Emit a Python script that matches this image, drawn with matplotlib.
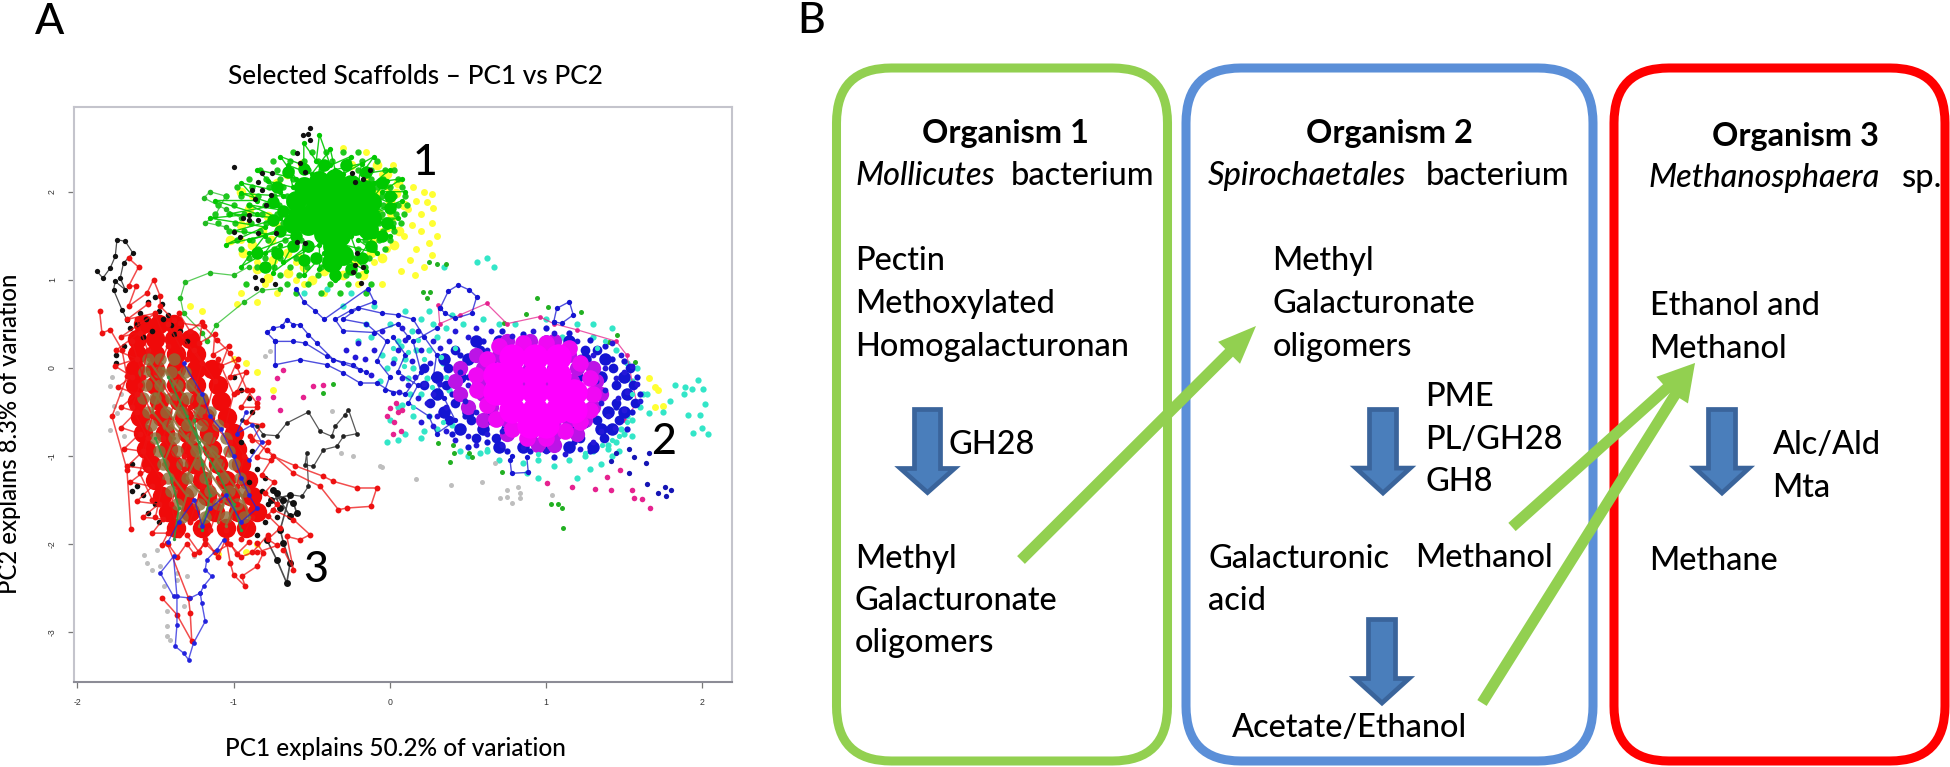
import matplotlib
matplotlib.use("Agg")
import matplotlib.pyplot as plt
from matplotlib.patches import FancyBboxPatch, FancyArrow, Polygon

# panel A, everything in PC units
yellow_pts = [(0.15,2.05),(0.22,2.0),(0.27,1.97),(0.17,1.9),(0.24,1.88),(0.28,1.82),(0.12,1.8),(0.2,1.75),(0.27,1.65),(0.3,1.5),
              (0.14,1.62),(0.2,1.55),(0.09,1.5),(0.25,1.42),(0.17,1.35),(0.27,1.28),(0.13,1.22),(0.22,1.15),(0.07,1.1),(0.16,1.05),
              (-0.05,2.2),(0.02,2.3),(-0.3,2.5),(-0.15,2.45),(-0.05,1.55),(-0.02,1.35),(-0.1,1.2),(-0.6,1.0),(-0.8,0.95),(-0.95,0.85),
              (-0.72,0.85),(-0.85,1.2),(-0.95,1.45),(-0.75,1.65),(-0.55,0.95),(-0.42,0.85),(-0.2,0.95),(-0.05,0.95),(-1.28,0.7),(-1.2,0.65),
              (-0.85,0.75),(-0.98,0.72),(-1.0,0.1),(-0.92,0.05),(-0.85,-0.05),(-0.75,-0.25),(1.66,-0.12),(1.7,-0.22),(1.72,-0.25),(1.7,-0.45),(1.75,-0.43),
              (-0.9,1.65),(-0.7,1.3),(-0.6,1.2),(-0.1,1.45),(0.0,1.75),(-0.02,2.05),(-0.88,1.95),(-0.92,-2.1),(-0.85,-2.0),(-1.1,-2.12)]
yellow_mid = [(-1.02,1.45),(-0.94,1.3),(-0.85,1.12),(-0.78,1.02),(-0.65,1.08),(-0.55,1.15),(-0.5,1.0),(-0.75,1.22),(-0.66,1.3),(-0.58,1.25),(-0.88,1.4),(-0.82,1.55),
              (-0.76,1.45),(-0.7,1.6),(-0.95,1.62),(-0.12,1.3),(-0.05,1.25),(0.03,1.4),(0.06,1.55),(-0.02,1.6),(-0.12,1.42),(0.02,1.72),(0.09,1.85),(0.0,1.9),(0.05,2.1),
              (-0.02,2.2),(-0.08,2.3),(-0.15,2.15),(-0.25,2.3),(-0.9,1.8),(-0.78,1.72),(-0.95,2.0),(-0.72,2.1),(-0.66,2.2),(-0.56,2.32),(-0.42,1.1),(-0.3,1.05),(-0.17,1.05),
              (-0.22,1.2),(-0.07,1.75),(-0.08,1.98),(0.04,1.98)]
cyan_pts = [(1.976,-0.14),(2.008,-0.246),(1.826,-0.2),(1.89,-0.216),(1.933,-0.246),(1.884,-0.299),(1.795,-0.374),(1.747,-0.507),(1.662,-0.518),
            (1.91,-0.537),(1.986,-0.537),(2.018,-0.412),(1.997,-0.681),(1.94,-0.738),(2.04,-0.757),
            (0.0,0.5),(0.1,0.65),(-0.1,0.7),(-0.25,0.85),(-0.4,0.9),(-0.55,0.85),(-0.15,0.5),(0.05,0.3),(-0.05,0.15),(0.1,0.1),(0.2,0.55),
            (0.35,1.15),(0.56,1.2),(0.62,1.25),(0.67,1.15),(0.0,-0.6),(0.05,-0.45),(0.1,-0.75),(0.2,-0.8),(0.15,-0.55),
            (0.45,-0.95),(0.5,-1.0),(0.58,-0.97),(0.62,-0.95),(0.7,-1.05),(0.85,-1.08),(0.95,-1.05),(1.05,-1.12),(1.15,-1.05),(1.25,-1.0),
            (1.3,-0.95),(1.35,-1.1),(1.42,-1.0),(1.45,-0.85),(1.5,-0.75),(1.55,-0.6),(1.6,-0.45),(1.62,-0.3),(1.55,-0.15),(1.52,0.05),(1.45,0.2),
            (1.3,0.35),(1.2,0.5),(1.1,0.35),(0.8,0.5),(0.6,0.55),(0.4,0.6),(0.25,0.65),(0.2,-0.3),(0.25,-0.55),(0.3,-0.7),(0.4,-0.65),(0.15,0.0),
            (0.25,0.2),(0.3,0.35),(1.4,-0.88),(1.48,-0.7),(1.52,-0.55),(-0.02,-0.85),(0.05,-0.82),(0.13,-0.3),(0.03,0.1),(-0.2,0.3),(-0.3,0.7),
            (1.2,-1.25),(0.95,-1.25),(0.88,-1.2),(1.28,-1.15),(1.58,0.0),(1.65,-0.3),(1.3,0.5),(1.42,0.45),
            (-0.02,0.0),(0.07,0.25),(0.12,-0.12),(0.24,-0.12),(0.34,0.05),(0.17,0.2),(-0.12,0.35),(-0.06,-0.15),(0.08,-0.42),(0.22,-0.72),(0.38,-0.25),(0.14,0.42),(0.28,0.5),
            (0.36,0.45),(0.47,0.5),(0.7,0.5),(1.0,0.55),(1.4,-0.92),(1.47,-0.95),(1.55,-0.78)]
cyan_top = [(0.02,0.22),(0.12,0.18),(0.22,0.1),(0.33,0.12),(0.27,-0.22),(0.15,-0.45),(0.34,-0.62),(0.42,0.22),(0.36,-0.1),(0.18,0.32),(0.09,0.02),(1.47,-0.78),(1.42,-0.82),(1.52,-0.62),
            (1.36,-0.88),(1.25,-0.97),(1.55,-0.3),(0.62,-0.92),(0.95,-0.98),(1.38,0.3),(1.33,0.22)]
grey_pts = [(-1.576,-2.125),(-1.554,-2.22),(-1.49,-2.068),(-1.469,-2.258),(-1.426,-2.939),(-1.426,-3.053),(-1.405,-3.091),(-1.299,-2.371),
            (-1.256,-2.144),(-1.362,-2.333),(-1.362,-2.409),(-1.448,-2.485),(-1.32,-2.712),(-1.426,-2.769),(-1.789,-0.212),(-1.768,-0.439),
            (-1.789,-0.705),(-1.704,-0.78),(-1.746,-0.515),(-0.797,0.129),(-0.765,0.186),(-0.371,-0.496),(-0.311,-0.97),(-0.237,-1.008),(-0.062,-1.121),
            (0.706,-1.485),(0.749,-1.39),(0.749,-1.466),(0.781,-1.54),(0.823,-1.352),(0.834,-1.428),(0.834,-1.485),(0.674,-1.087),(0.589,-1.295),
            (0.393,-1.333),(0.168,-1.265),(-0.051,-1.125),(1.037,-1.446),(-1.78,-0.1),(-1.72,-0.3),(-1.52,-2.3),(-1.38,-2.6)]
pink_pts = [(-0.68,-0.023),(-0.723,-0.117),(-0.84,-0.345),(-0.744,-0.333),(-0.701,-0.477),(-0.488,-0.212),(-0.424,-0.193),(-0.552,-0.337),
            (1.165,-1.36),(1.314,-1.378),(1.417,-1.39),(1.553,-1.39),(1.564,-1.485),(1.613,-1.489),(1.666,-1.59),(1.474,-1.162),(1.389,-1.246),(1.005,-1.314),
            (0.0,-0.46),(0.03,-0.62),(0.07,-0.72),(0.02,-0.75),(0.05,-0.5),(-0.02,-0.55),(0.08,-0.48),(0.04,-0.4)]
pink_top = [(0.31,0.71),(0.32,0.5),(0.45,0.6),(0.62,0.73),(0.75,0.5),(0.96,0.58),(1.05,0.5),(1.2,0.43),(1.45,0.3),(1.517,0.144),(1.581,-0.405),(1.5,-0.6)]
green_dots = [(1.107,-1.826),(1.03,-1.55),(1.075,-1.55),(1.105,-1.59),(0.386,-1.07),(0.407,-0.877),(0.411,-0.973),(0.51,-0.973),(0.525,-1.01),(0.717,-1.18),
              (0.311,-0.86),(0.215,0.864),(0.258,0.864),(0.236,0.788),(0.945,0.788),(1.016,0.694),(0.87,0.606),(1.225,0.629),(0.73,0.505),(1.457,0.372),
              (1.406,0.296),(1.57,0.069),(0.25,1.2),(0.3,1.18),(0.36,1.18),(-0.36,-0.18),(-0.424,-0.288)]

green_core = [(-0.55,2.05),(-0.45,2.12),(-0.35,2.14),(-0.25,2.08),(-0.6,1.9),(-0.5,1.95),(-0.4,1.98),(-0.3,1.95),(-0.2,1.92),(-0.58,1.75),(-0.48,1.8),
              (-0.38,1.82),(-0.28,1.8),(-0.18,1.78),(-0.52,1.62),(-0.42,1.66),(-0.32,1.65),(-0.22,1.62),(-0.42,1.52),(-0.32,1.5),(-0.36,1.38),(-0.3,1.28),
              (-0.37,1.2),(-0.12,1.88),(-0.12,1.7),(-0.16,2.02),(-0.14,1.58),(-0.62,1.65)]
green_halo = [(-0.72,2.05),(-0.65,2.22),(-0.55,2.26),(-0.42,2.3),(-0.28,2.3),(-0.15,2.22),(-0.05,2.1),(0.0,1.95),(0.0,1.82),(-0.02,1.65),(-0.05,1.5),(-0.12,1.38),(-0.18,1.25),
              (-0.25,1.12),(-0.35,1.05),(-0.47,1.25),(-0.52,1.38),(-0.6,1.5),(-0.7,1.55),(-0.75,1.68),(-0.75,1.88),(-0.68,1.78),(-0.62,1.38),(-0.72,1.3),(-0.55,1.22),(-0.85,1.3),(-0.8,1.15)]
green_mid_rows = [2.45,2.35,2.25,2.15,2.05,1.95,1.85,1.75,1.65,1.55,1.45,1.35,1.25,1.15,1.05,0.95,0.85]
green_mid_cols = [[-0.62,-0.5,-0.41,-0.3,-0.2],[-0.75,-0.64,-0.55,-0.46,-0.37,-0.27,-0.18,-0.08],[-0.83,-0.72,-0.63,-0.52,-0.44,-0.2,-0.12,-0.03,0.03],
                  [-0.9,-0.79,-0.7,-0.62,-0.12,-0.04,0.05],[-0.98,-0.88,-0.77,-0.68,-0.08,0.0,0.08],[-1.05,-0.95,-0.84,-0.74,-0.66,-0.05,0.03,0.1],
                  [-1.1,-1.0,-0.9,-0.8,-0.71,-0.04,0.05,0.11],[-1.12,-1.03,-0.93,-0.82,-0.72,-0.05,0.04,0.09],[-1.1,-0.99,-0.89,-0.79,-0.68,-0.07,0.02,0.07],
                  [-1.03,-0.93,-0.83,-0.72,-0.62,-0.12,-0.04,0.03],[-0.98,-0.88,-0.78,-0.67,-0.57,-0.16,-0.07,0.0],[-0.95,-0.84,-0.74,-0.63,-0.52,-0.2,-0.1,-0.03],
                  [-0.9,-0.8,-0.7,-0.6,-0.48,-0.22,-0.13],[-0.85,-0.74,-0.64,-0.53,-0.44,-0.24,-0.16],[-0.7,-0.58,-0.46,-0.28,-0.2],[-0.92,-0.66,-0.52,-0.38,-0.27,-0.12],[-0.6,-0.44,-0.32,-0.15]]
green_spikes = [(0.08,1.9),(-0.2,1.7),(0.05,1.7),(-0.15,1.6),(0.0,1.5),(-0.2,1.45),(-0.08,1.3),(-0.3,1.4),(-0.15,1.1),(-0.3,1.25),(-0.35,1.0),(-0.42,1.3),
                (-0.55,1.05),(-0.55,1.35),(-0.75,1.08),(-0.7,1.4),(-0.95,1.15),(-0.8,1.5),(-1.05,1.4),(-0.8,1.6),(-1.15,1.7),(-0.85,1.75),(-1.12,1.9),(-0.85,1.9),
                (-0.95,2.1),(-0.7,2.0),(-0.85,2.25),(-0.6,2.15),(-0.7,2.4),(-0.55,2.3),(-0.55,2.55),(-0.47,2.35),(-0.45,2.65),(-0.38,2.3),(-0.25,2.4),(-0.3,2.2),
                (-0.1,2.4),(-0.18,2.2),(0.0,2.25),(-0.1,2.1),(0.08,2.15),(-0.05,2.0),(0.1,2.0)]
green_spikes2 = [(-0.9,1.3),(-0.6,1.5),(-1.0,1.55),(-0.7,1.7),(-1.02,1.75),(-0.72,1.85),(-0.95,1.98),(-0.68,1.95),(-0.78,2.12),(-0.62,2.05),(-0.65,2.3),(-0.5,2.2),
                 (-0.38,2.48),(-0.35,2.25),(-0.18,2.32),(-0.2,2.1),(-0.02,2.12),(-0.1,1.95),(0.03,1.85),(-0.1,1.75),(0.02,1.6),(-0.1,1.5),(-0.2,1.25),(-0.25,1.5),
                 (-0.45,1.12),(-0.45,1.4),(-0.68,1.2),(-0.62,1.4),(-0.8,1.3),(-0.7,1.55),(-0.9,1.45),(-0.62,1.62),(-0.9,1.85),(-0.65,1.78)]
green_tail = [(-0.9,1.15),(-1.0,1.05),(-1.15,1.08),(-1.31,0.97),(-1.34,0.79),(-1.32,0.62),(-1.2,0.4),(-1.17,0.3),(-1.11,0.49),(-0.93,0.75),(-0.82,0.88),(-0.7,0.9)]
green_lobe = [(-0.95,1.7),(-1.05,1.8),(-1.19,1.93),(-1.15,2.0),(-1.05,1.95),(-1.12,1.72),(-1.18,1.65),(-1.05,1.6)]

black_cl1 = [(-0.997,2.284),(-0.51,2.72),(-0.52,2.655),(-0.553,2.644),(-0.51,2.586),(-0.595,2.435),(-0.574,2.322),(-0.542,2.229),(-0.82,2.208),(-0.755,2.208),
             (-0.84,2.113),(-0.88,2.019),(-0.82,2.019),(-0.76,1.962),(-0.862,1.913),(-0.79,1.849),(-0.9,1.734),(-0.94,1.696),(-0.9,1.678),(-0.84,1.678),(-1.0,1.545),
             (-0.96,1.489),(-0.84,1.527),(-0.73,1.527),(-0.244,2.209),(-0.17,2.15),(-0.22,2.113),(-0.125,2.247),(-0.595,1.432),(-0.54,1.413),(-0.212,1.299),
             (-0.223,1.167),(-0.234,1.09),(-0.17,1.15),(-0.185,0.958),(-0.86,1.034),(-0.82,0.997),(-0.853,0.902),(-0.733,0.949)]
black_top = [(-1.874,1.095),(-1.836,1.019),(-1.789,1.133),(-1.757,1.265),(-1.746,1.455),(-1.693,1.436),(-1.644,1.303),(-1.704,1.189),(-1.725,1.019),(-1.693,0.886),
             (-1.757,0.981),(-1.768,0.886),(-1.714,0.659),(-1.682,0.545)]
black_right = [(-0.947,-0.591),(-0.851,-0.667),(-0.808,-0.761),(-0.723,-0.773),(-0.659,-0.629),(-0.52,-0.504),(-0.446,-0.723),(-0.371,-0.78),(-0.35,-0.667),(-0.286,-0.534),
               (-0.264,-0.477),(-0.211,-0.75),(-0.296,-0.78),(-0.339,-0.894),(-0.424,-0.932),(-0.488,-1.121),(-0.542,-1.102),(-0.531,-0.97),(-0.52,-1.348),(-0.563,-1.462),(-0.638,-1.443)]
black_knot = [(-0.723,-1.424),(-0.68,-1.5),(-0.616,-1.538),(-0.595,-1.652),(-0.638,-1.689),(-0.744,-1.386),(-0.7,-1.6),(-0.76,-1.5),(-0.64,-1.45),(-0.701,-1.841),
              (-0.68,-1.992),(-0.638,-2.22),(-0.659,-2.447),(-0.723,-2.182),(-0.787,-1.955)]
black_cl3 = [(-1.55,0.75),(-1.5,0.8),(-1.48,0.65),(-1.45,0.55),(-1.62,0.5),(-1.58,0.35),(-1.42,0.6),(-1.66,0.45),(-1.7,0.25),(-1.75,0.15),(-1.75,0.05),(-1.0,-0.1),
             (-0.95,-0.25),(-0.9,-0.35),(-0.88,-0.5),(-0.95,-0.85),(-0.88,-0.95),(-0.85,-1.15),(-0.8,-1.25),(-0.82,-1.4),(-0.9,-1.3),(-0.78,-1.55),(-0.75,-1.62),(-0.72,-1.7),
             (-0.8,-1.75),(-0.85,-1.9),(-1.65,-1.4),(-1.62,-1.35),(-1.58,-1.45),(-1.55,-1.65),(-1.48,-1.75),(-1.5,-1.55),(-1.65,-1.1),(-1.3,0.3),(-1.38,0.38),(-1.52,0.42),
             (-1.6,0.62),(-1.46,0.72),(-1.4,0.48),(-1.56,0.55),(-1.34,0.42)]

red_core_rows = [0.5,0.33,0.16,-0.02,-0.2,-0.38,-0.56,-0.74,-0.92,-1.1,-1.28,-1.46,-1.64,-1.82]
red_core_cols = [[-1.58,-1.48,-1.38],[-1.62,-1.5,-1.38,-1.28],[-1.62,-1.5,-1.37,-1.24],[-1.63,-1.5,-1.37,-1.24,-1.14],[-1.63,-1.5,-1.37,-1.24,-1.1],
                 [-1.62,-1.48,-1.35,-1.22,-1.08],[-1.6,-1.46,-1.32,-1.18,-1.04],[-1.58,-1.44,-1.3,-1.16,-1.0],[-1.56,-1.42,-1.28,-1.14,-0.98],
                 [-1.53,-1.39,-1.25,-1.1,-0.95],[-1.5,-1.35,-1.2,-1.05,-0.91],[-1.46,-1.32,-1.17,-1.02,-0.88],[-1.42,-1.28,-1.12,-0.97,-0.85],[-1.37,-1.2,-1.05,-0.92]]
olive_rows = [0.1,-0.05,-0.2,-0.35,-0.5,-0.65,-0.8,-0.95,-1.1,-1.25,-1.4,-1.55,-1.7]
olive_cols = [[-1.55,-1.47,-1.38],[-1.57,-1.48,-1.4,-1.31],[-1.56,-1.47,-1.36,-1.27],[-1.58,-1.5,-1.4,-1.3,-1.2],[-1.55,-1.43,-1.33,-1.22,-1.15],
              [-1.53,-1.42,-1.3,-1.2,-1.1],[-1.5,-1.38,-1.27,-1.16,-1.05],[-1.48,-1.36,-1.24,-1.14,-1.03],[-1.45,-1.33,-1.22,-1.1,-1.0],
              [-1.42,-1.3,-1.18,-1.07,-0.96],[-1.4,-1.27,-1.15,-1.03,-0.93],[-1.36,-1.22,-1.1,-0.98],[-1.33,-1.18,-1.05,-0.93]]
red_fringe_left = [(-1.55,0.72),(-1.68,0.55),(-1.5,0.62),(-1.72,0.35),(-1.6,0.4),(-1.75,0.2),(-1.62,0.1),(-1.76,0.02),(-1.65,-0.1),(-1.74,-0.22),(-1.62,-0.3),(-1.72,-0.45),(-1.62,-0.5),(-1.72,-0.68),
                   (-1.6,-0.75),(-1.7,-0.92),(-1.58,-0.95),(-1.68,-1.12),(-1.55,-1.15),(-1.66,-1.3),(-1.52,-1.35),(-1.62,-1.52),(-1.48,-1.55),(-1.58,-1.7),(-1.45,-1.72),(-1.52,-1.88),(-1.42,-1.88),(-1.46,-2.02)]
red_fringe_right = [(-1.35,0.62),(-1.28,0.42),(-1.2,0.52),(-1.22,0.28),(-1.12,0.38),(-1.13,0.15),(-1.03,0.25),(-1.08,0.02),(-0.97,0.1),(-1.02,-0.1),(-0.92,-0.05),(-0.98,-0.28),(-0.88,-0.25),(-0.95,-0.45),
                    (-0.85,-0.45),(-0.92,-0.62),(-0.82,-0.65),(-0.88,-0.82),(-0.78,-0.85),(-0.85,-1.02),(-0.76,-1.05),(-0.82,-1.22),(-0.74,-1.3),(-0.8,-1.42),(-0.72,-1.55),(-0.78,-1.68),(-0.7,-1.82),(-0.78,-1.95),(-0.72,-2.02),(-0.85,-2.1)]
red_fringe_bottom = [(-1.42,-2.0),(-1.36,-2.15),(-1.3,-2.0),(-1.25,-2.12),(-1.18,-2.0),(-1.12,-2.1),(-1.02,-2.0),(-0.98,-2.12),(-0.9,-1.98)]
red_paths = [
    [(-1.62,0.55),(-1.55,0.2),(-1.6,-0.2),(-1.52,-0.55),(-1.58,-0.95),(-1.45,-1.3),(-1.5,-1.7)],
    [(-1.5,0.6),(-1.42,0.25),(-1.5,-0.05),(-1.38,-0.4),(-1.45,-0.8),(-1.32,-1.15),(-1.4,-1.55),(-1.35,-1.9)],
    [(-1.42,0.5),(-1.3,0.1),(-1.38,-0.25),(-1.25,-0.6),(-1.32,-1.0),(-1.2,-1.35),(-1.28,-1.75)],
    [(-1.35,0.4),(-1.2,0.05),(-1.28,-0.45),(-1.12,-0.75),(-1.2,-1.15),(-1.08,-1.5),(-1.15,-1.85)],
    [(-1.65,0.3),(-1.58,-0.1),(-1.65,-0.45),(-1.55,-0.8),(-1.6,-1.2),(-1.52,-1.5)],
    [(-1.25,0.2),(-1.12,-0.15),(-1.18,-0.55),(-1.02,-0.85),(-1.1,-1.25),(-0.98,-1.55),(-1.05,-1.85)],
    [(-1.1,0.1),(-1.0,-0.3),(-1.05,-0.65),(-0.93,-1.0),(-0.98,-1.35),(-0.88,-1.7),(-0.95,-1.95)],
    [(-0.893,-0.78),(-0.744,-1.008),(-0.606,-1.114),(-0.424,-1.235),(-0.36,-1.292),(-0.211,-1.367),(-0.083,-1.367),(-0.122,-1.576),(-0.275,-1.595),(-0.328,-1.614),(-0.446,-1.348),(-0.616,-1.197),(-0.787,-0.932)],
    [(-1.043,-1.992),(-1.021,-2.22),(-1.0,-2.352),(-0.925,-2.485),(-0.947,-2.371),(-0.851,-2.258),(-0.808,-2.106),(-0.851,-1.992)],
    [(-0.744,-1.614),(-0.616,-1.727),(-0.51,-1.898),(-0.574,-1.955),(-0.659,-1.917),(-0.616,-2.295),(-0.68,-2.068)],
    [(-1.657,-1.833),(-1.682,-1.159),(-1.778,-0.553),(-1.682,-0.098),(-1.714,0.205),(-1.789,0.432),(-1.842,0.394),(-1.857,0.64)],
    [(-1.458,-2.617),(-1.362,-2.807),(-1.267,-3.11),(-1.277,-2.788),(-1.288,-2.617),(-1.426,-1.992)],
    [(-1.672,1.246),(-1.608,1.144),(-1.672,0.924),(-1.623,0.932),(-1.672,0.697),(-1.554,0.848),(-1.512,1.0),(-1.469,0.811),(-1.469,0.697),(-1.384,0.545)],
    [(-1.341,0.508),(-1.192,0.47),(-1.107,0.318),(-1.021,0.167),(-0.979,0.015),(-0.915,-0.25),(-0.851,-0.402)],
    [(-1.3,-1.9),(-1.22,-2.1),(-1.18,-1.95),(-1.1,-2.15),(-1.05,-1.95),(-0.95,-2.15),(-0.88,-2.1),(-0.78,-1.9)],
]
olive_paths = [
    [(-1.55,0.1),(-1.45,-0.15),(-1.52,-0.5),(-1.38,-0.8),(-1.45,-1.1),(-1.3,-1.45),(-1.35,-1.75)],
    [(-1.45,0.0),(-1.32,-0.3),(-1.4,-0.65),(-1.22,-0.95),(-1.3,-1.25),(-1.15,-1.55),(-1.22,-1.8)],
    [(-1.35,-0.05),(-1.2,-0.35),(-1.28,-0.7),(-1.1,-1.0),(-1.18,-1.3),(-1.0,-1.6),(-1.05,-1.8)],
    [(-1.55,-0.05),(-1.35,-0.5),(-1.15,-0.95),(-0.95,-1.45),(-0.9,-1.7)],
    [(-1.5,-0.3),(-1.3,-0.8),(-1.15,-1.2),(-1.05,-1.45),(-1.1,-1.75)],
]
dkgreen_paths = [
    [(-1.42,-0.1),(-1.3,-0.55),(-1.22,-0.85),(-1.1,-1.2),(-1.0,-1.55),(-0.95,-1.85)],
    [(-1.5,-0.8),(-1.4,-1.25),(-1.35,-1.6),(-1.38,-1.95)],
    [(-1.25,-0.6),(-1.2,-1.1),(-1.15,-1.45),(-1.2,-1.85)],
]
blue_cl3 = [(-1.32,0.05),(-1.2,-0.3),(-1.15,-0.55),(-1.08,-0.7),(-1.0,-1.0),(-0.95,-1.25),(-0.9,-1.45),(-0.85,-1.6),(-0.95,-1.75),(-1.05,-1.45),(-1.15,-1.6),(-1.2,-1.8),(-1.25,-1.5),(-1.35,-1.75),(-1.42,-1.98)]
blue_edge = [(-0.92,-0.5),(-0.98,-0.75),(-0.88,-0.65),(-0.82,-0.85),(-0.9,-1.05)]
blue_drop = [(-1.064,-1.955),(-1.107,-2.068),(-1.171,-2.182),(-1.181,-2.295),(-1.139,-2.371),(-1.192,-2.485),(-1.213,-2.561),(-1.277,-2.617),(-1.384,-2.598),(-1.469,-2.333),(-1.384,-2.144),
             (-1.362,-2.598),(-1.362,-2.92),(-1.373,-3.167),(-1.32,-3.242),(-1.288,-3.318),(-1.256,-3.129),(-1.181,-2.883),(-1.203,-2.674),(-1.213,-2.561)]
blue_hook = [(0.023,-0.288),(-0.083,-0.174),(-0.19,-0.174),(-0.296,-0.061),(-0.403,0.034),(-0.574,0.091),(-0.733,0.034),(-0.733,0.299),(-0.787,0.402),(-0.744,0.451),(-0.691,0.47),(-0.659,0.545),(-0.616,0.489),
             (-0.574,0.489),(-0.52,0.375),(-0.467,0.28),(-0.36,0.091),(-0.232,0.034),(-0.19,-0.023)]
blue_hook2 = [(-0.733,0.299),(-0.616,0.299),(-0.542,0.28),(-0.403,0.129),(-0.3,0.05),(-0.15,-0.05)]
blue_up = [(-0.6,0.9),(-0.55,0.75),(-0.48,0.65),(-0.42,0.55),(-0.14,0.9),(-0.1,0.75),(-0.25,0.65),(-0.35,0.55),(-0.3,0.42),(-0.1,0.4),(0.05,0.5),(0.12,0.35)]
blue_left = [(0.02,0.35),(0.1,0.15),(0.05,-0.05),(0.18,-0.2),(0.12,-0.4),(0.25,-0.55),(0.3,-0.75),(0.42,-0.6),(0.35,-0.35),(0.28,-0.1),(0.3,0.15),(0.22,0.35),(0.15,0.55),(0.05,0.6),(-0.05,0.62),(-0.2,0.68),
             (-0.3,0.55),(-0.15,0.5),(-0.02,0.3),(-0.08,0.08),(0.0,-0.1),(-0.03,-0.25),(0.1,-0.3),(0.2,-0.05),(0.15,0.3),(0.3,0.45)]
blue_loop1 = [(0.322,0.675),(0.375,0.87),(0.439,0.94),(0.51,0.883),(0.557,0.807),(0.525,0.618),(0.418,0.561),(0.354,0.618),(0.322,0.675)]
blue_loop2 = [(1.05,0.523),(1.069,0.674),(1.15,0.75),(1.175,0.6),(1.10,0.504),(1.05,0.523)]
blue_box = [(0.78,-1.0),(0.77,-1.05),(0.78,-1.2),(0.887,-1.19),(0.877,-1.01)]
blue_rim = [(1.38,0.25),(1.5,0.08),(1.58,-0.1),(1.6,-0.3),(1.55,-0.5),(1.45,-0.45),(1.52,-0.7),(1.38,-0.8),(1.28,-0.95),(1.18,-0.85),(1.05,-1.02),(0.9,-0.95),(0.75,-0.95),(0.62,-0.85),(0.5,-0.9),(0.4,-0.75),
            (0.48,-0.55),(0.4,-0.3),(0.5,-0.1),(0.45,0.15),(0.6,0.3),(0.72,0.42),(0.85,0.38),(1.0,0.45),(1.15,0.4),(1.28,0.32),(1.42,0.1)]
blue_dots = [(1.449,-0.973),(1.534,-0.923),(1.566,-1.011),(1.662,-0.966),(1.64,-1.087),(1.534,-1.193),(1.415,-1.06),(1.645,-1.325),(1.716,-1.428),(1.763,-1.352),(1.801,-1.394),(1.769,-1.458)]
blue_speck = [(0.02,0.05),(0.08,-0.12),(0.14,0.08),(0.2,0.2),(0.26,0.05),(0.32,0.22),(0.38,0.3),(0.1,0.32),(0.05,0.2),(0.16,-0.1),(0.22,-0.18),(0.28,-0.3),(0.32,-0.18),(0.36,-0.45),(0.3,-0.55),(0.24,-0.4),
              (0.18,-0.35),(0.12,-0.2),(0.06,-0.28),(0.2,-0.62),(0.28,-0.66),(0.36,-0.72),(0.42,-0.82),(0.5,-0.78),(0.55,-0.88),(-0.1,0.2),(-0.16,0.1),(-0.22,0.12),(-0.12,-0.08),(-0.2,0.28),(-0.28,0.2),
              (-0.05,0.42),(0.08,0.45),(0.18,0.42),(0.28,0.3),(0.42,0.42),(0.5,0.35),(0.55,0.45),(0.65,0.42),(1.42,0.28),(1.48,0.15),(1.55,0.02),(1.5,-0.05),(1.58,-0.18),(1.45,-0.12),(1.52,-0.28),(1.6,-0.38),
              (1.46,-0.35),(1.5,-0.48),(1.4,-0.55),(1.44,-0.68),(1.35,-0.72),(1.3,-0.85),(1.22,-0.92),(1.12,-0.98),(1.0,-0.95),(0.85,-0.9),(0.72,-0.88),(0.62,-0.75),(1.38,-0.25),(1.38,0.0),(1.3,0.15),(1.2,0.3),
              (1.05,0.4),(0.92,0.42),(0.78,0.36),(1.35,-0.4),(0.5,-0.2),(0.55,-0.5),(0.6,0.1),(0.45,-0.05),(0.65,-0.62),(0.72,-0.72),(1.3,-0.5),(1.25,-0.65),(1.22,0.12),(1.12,0.25),(0.72,0.22),(0.62,0.2),
              (0.48,-0.38),(1.32,-0.15)]
blue_core_rows = [0.3,0.1,-0.1,-0.3,-0.5,-0.7,-0.9]
blue_core_cols = [[0.55,0.7,0.85,1.0,1.15],[0.35,0.5,0.65,0.8,0.95,1.1,1.25,1.38],[0.3,0.45,0.6,0.75,0.9,1.05,1.2,1.35,1.5],
                  [0.3,0.45,0.6,0.75,0.9,1.05,1.2,1.35,1.52],[0.35,0.5,0.65,0.8,0.95,1.1,1.25,1.4,1.5],[0.45,0.6,0.75,0.9,1.05,1.2,1.35,1.42],[0.7,0.85,1.0,1.15,1.3]]
blue_stag_rows = [0.2,0.0,-0.2,-0.4,-0.6,-0.8]
blue_stag_cols = [[0.42,0.58,1.25,1.33],[0.22,0.37,1.43,1.54],[0.22,0.36,1.45,1.56],[0.26,0.42,1.45,1.57],[0.38,0.52,1.33,1.47],[0.55,0.68,1.22,1.37]]
magenta_mid_rows = [0.3,0.15,0.0,-0.15,-0.3,-0.45,-0.6,-0.75,-0.88]
magenta_mid_cols = [[0.75,0.9,1.05],[0.55,0.7,0.85,1.0,1.15],[0.45,0.6,0.75,0.9,1.05,1.2,1.3],[0.42,0.57,0.72,0.87,1.02,1.17,1.32],
                    [0.45,0.6,0.75,0.9,1.05,1.2,1.35],[0.5,0.65,0.8,0.95,1.1,1.2,1.3],[0.6,0.75,0.9,1.05,1.15,1.25],[0.75,0.9,1.05,1.2],[0.95,1.05]]
magenta_ring = [(0.62,0.1),(0.7,0.25),(0.85,0.28),(1.0,0.28),(1.15,0.22),(1.22,0.05),(1.28,-0.12),(1.3,-0.3),(1.28,-0.48),(1.22,-0.62),(1.12,-0.72),(1.0,-0.8),(0.88,-0.8),(0.78,-0.7),(0.68,-0.58),(0.62,-0.42),(0.56,-0.25),(0.55,-0.08)]
magenta_core = [(0.78,0.12),(0.93,0.12),(1.08,0.12),(0.68,-0.08),(0.78,-0.08),(0.93,-0.08),(1.08,-0.08),(0.68,-0.28),(0.78,-0.28),(0.93,-0.28),(1.08,-0.28),(1.18,-0.28),
                (0.78,-0.48),(0.93,-0.48),(1.08,-0.48),(1.18,-0.48),(0.9,-0.65),(1.0,-0.65)]

x_ticks = [-2, -1, 0, 1, 2]
y_ticks = [-3, -2, -1, 0, 1, 2]

W, H = 1950, 767
LINE_KW = dict(solid_capstyle="round", solid_joinstyle="round")


def trace(ax, pts, color, lw=0.9, ms=3.6, alpha=0.75):
    xs = [p[0] for p in pts]
    ys = [p[1] for p in pts]
    ax.plot(xs, ys, color=color, lw=lw, alpha=alpha, **LINE_KW)
    ax.plot(xs, ys, ls="none", marker="o", color=color, ms=ms, mew=0)


def dots(ax, pts, color, ms=3.6, alpha=1.0):
    ax.plot([p[0] for p in pts], [p[1] for p in pts], ls="none", marker="o", color=color, ms=ms, mew=0, alpha=alpha)


def rows(ax, ys, cols, color, ms, alpha=1.0):
    for y, xs in zip(ys, cols):
        ax.plot(xs, [y] * len(xs), ls="none", marker="o", color=color, ms=ms, mew=0, alpha=alpha)


def down_arrow(ax, xmid, top, neck, tip, shaft_w, head_w):
    # block arrow, dark outline inside the outer shape
    inset = 2.5
    sw, hw = shaft_w / 2 - inset, head_w / 2 - 2 * inset
    pts = [(xmid - sw, top + inset), (xmid + sw, top + inset), (xmid + sw, neck + inset), (xmid + hw, neck + inset),
           (xmid, tip - 2 * inset), (xmid - hw, neck + inset), (xmid - sw, neck + inset)]
    ax.add_patch(Polygon(pts, closed=True, fc="#4A7EBB", ec="#3A649B", lw=3.4, joinstyle="miter"))


def green_arrow(ax, x0, y0, x1, y1, head_len=38):
    ax.add_patch(FancyArrow(x0, y0, x1 - x0, y1 - y0, width=11, head_width=31, head_length=head_len,
                            length_includes_head=True, fc="#92D050", ec="none"))


plt.rcParams["font.family"] = ["Lato", "DejaVu Sans"]
plt.rcParams["axes.unicode_minus"] = False

fig = plt.figure(figsize=(W / 100, H / 100), dpi=100, facecolor="white")

# ---- panel A
ax = fig.add_axes([74 / W, 1 - 681.5 / H, (732 - 74) / W, (681.5 - 106.7) / H])
ax.set_xlim(-2.021, 2.191)
ax.set_ylim(-3.566, 2.966)

dots(ax, yellow_pts, "#FFFF33", ms=5)
dots(ax, cyan_pts, "#33E6C8", ms=4.5)
dots(ax, grey_pts, "#BEBEBE", ms=3.6)
dots(ax, pink_pts, "#E6228F", ms=4)
dots(ax, green_dots, "#22B022", ms=3.6)

# cluster 1
dots(ax, yellow_mid, "#FFFF33", ms=7)
trace(ax, green_tail, "#22BB22", lw=0.9, ms=4)
trace(ax, green_lobe, "#22BB22", lw=0.9, ms=4)
rows(ax, green_mid_rows, green_mid_cols, "#1EC81E", ms=4.6)
trace(ax, green_spikes, "#00C800", lw=1.0, ms=3.8, alpha=0.9)
trace(ax, green_spikes2, "#00C800", lw=1.0, ms=3.8, alpha=0.9)
dots(ax, green_halo, "#00C800", ms=9)
dots(ax, green_core, "#00C800", ms=15)
dots(ax, black_cl1, "#111111", ms=3.8)

# cluster 2
trace(ax, pink_top, "#E6228F", lw=0.9, ms=3.4)
for path in [blue_hook, blue_hook2, blue_up, blue_left, blue_loop1, blue_loop2, blue_box]:
    trace(ax, path, "#1414D2", lw=1.0, ms=3.8)
rows(ax, blue_core_rows, blue_core_cols, "#1414D2", ms=9)
rows(ax, blue_stag_rows, blue_stag_cols, "#1414D2", ms=7)
dots(ax, blue_dots, "#1414B4", ms=3.8)
dots(ax, blue_rim, "#1414D2", ms=4.5)
rows(ax, magenta_mid_rows, magenta_mid_cols, "#BC14E6", ms=11)
dots(ax, blue_speck, "#2418D8", ms=4.2)
dots(ax, cyan_top, "#33E6C8", ms=3.8)
dots(ax, magenta_ring, "#F008F4", ms=12)
dots(ax, magenta_core, "#FF00FF", ms=19)

# cluster 3
rows(ax, red_core_rows, red_core_cols, "#F00A0A", ms=14)
trace(ax, black_top, "#111111", lw=0.9, ms=3.8)
trace(ax, black_right, "#222222", lw=0.9, ms=3.4)
trace(ax, black_knot, "#111111", lw=1.2, ms=5)
dots(ax, black_cl3, "#111111", ms=4)
rows(ax, olive_rows, olive_cols, "#8E6C38", ms=9, alpha=0.8)
for path in red_paths + [red_fringe_left, red_fringe_right, red_fringe_bottom]:
    trace(ax, path, "#EE1111", lw=1.1, ms=4.2)
for path in olive_paths:
    trace(ax, path, "#8E7038", lw=1.6, ms=2.4, alpha=0.85)
for path in dkgreen_paths:
    trace(ax, path, "#2F9A3F", lw=1.3, ms=2.4, alpha=0.85)
for path in [blue_cl3, blue_edge, blue_drop]:
    trace(ax, path, "#2222DD", lw=1.0, ms=3.4)

ax.set_xticks(x_ticks)
ax.set_yticks(y_ticks)
ax.set_yticklabels([str(v) for v in y_ticks], rotation=90, va="center")
ax.tick_params(labelsize=6.3, length=4.2, width=0.9, color="#777777", labelcolor="#333333", pad=8)
for lab in ax.get_xticklabels() + ax.get_yticklabels():
    lab.set_family("Liberation Sans")
for side in ["left", "top", "right"]:
    ax.spines[side].set_color("#C4C4CC")
    ax.spines[side].set_linewidth(1.5)
ax.spines["bottom"].set_color("#8C8C96")
ax.spines["bottom"].set_linewidth(1.5)

# ---- everything else sits on an overlay in image pixels
ov = fig.add_axes([0, 0, 1, 1], facecolor="none")
ov.set_xlim(0, W)
ov.set_ylim(H, 0)
ov.axis("off")

BODY = 23.4


def label(x, y, s, size=BODY, **kw):
    kw.setdefault("weight", "medium")
    ov.text(x, y, s, fontsize=size, va="baseline", color="black", **kw)


label(35, 34, "A", size=31)
label(797, 33, "B", size=31)
label(415, 84, "Selected Scaffolds – PC1 vs PC2", size=18.9, ha="center")
label(395, 756, "PC1 explains 50.2% of variation", size=17.6, ha="center")
ov.text(21, 434, "PC2 explains 8.3% of variation", fontsize=17.2, weight="medium", rotation=90, ha="right", va="center", color="black")
label(425, 175, "1", size=31, ha="center")
label(664, 454, "2", size=31, ha="center")
label(316, 582, "3", size=31, ha="center")

# rounded boxes
for x0, x1, col in [(836.5, 1167.5, "#92D050"), (1186, 1593, "#5B8FD8"), (1614, 1945, "#FF0000")]:
    ov.add_patch(FancyBboxPatch((x0, 68), x1 - x0, 693, boxstyle="round,pad=0,rounding_size=55", fc="none", ec=col, lw=6.5))

label(1005, 143, "Organism 1", weight="bold", ha="center")
label(855, 185, "Mollicutes", style="italic")
label(1011, 185, "bacterium")
for y, s in [(270.5, "Pectin"), (313, "Methoxylated"), (355.7, "Homogalacturonan"), (567.5, "Methyl"), (609.6, "Galacturonate"), (652, "oligomers")]:
    label(855, y, s)
label(949, 453.5, "GH28")

label(1389.5, 143, "Organism 2", weight="bold", ha="center")
label(1207.5, 185, "Spirochaetales", style="italic")
label(1425.6, 185, "bacterium")
for y, s in [(270.5, "Methyl"), (313, "Galacturonate"), (355.7, "oligomers")]:
    label(1272.5, y, s)
for y, s in [(406, "PME"), (449, "PL/GH28"), (491, "GH8")]:
    label(1425.6, y, s)
label(1208, 567.5, "Galacturonic")
label(1208, 609.6, "acid")
label(1415, 567, "Methanol")
label(1232, 737, "Acetate/Ethanol")

label(1795.5, 146, "Organism 3", weight="bold", ha="center")
label(1648, 187, "Methanosphaera", style="italic")
label(1902, 187, "sp.")
label(1649.5, 315, "Ethanol and")
label(1649.5, 357.6, "Methanol")
label(1772.6, 453.5, "Alc/Ald")
label(1772.6, 496.6, "Mta")
label(1649.5, 570, "Methane")

down_arrow(ov, 927.5, 407, 466, 497.5, 31, 64)
down_arrow(ov, 1383, 407, 465.6, 498, 32, 64.4)
down_arrow(ov, 1382, 617, 676, 708, 32, 64)
down_arrow(ov, 1722, 407, 465.6, 498, 32, 64)

green_arrow(ov, 1021, 560, 1256, 326)
green_arrow(ov, 1512, 527, 1695, 363)
green_arrow(ov, 1482, 703, 1695, 363)

fig.savefig("out.png", dpi=100, facecolor="white")
